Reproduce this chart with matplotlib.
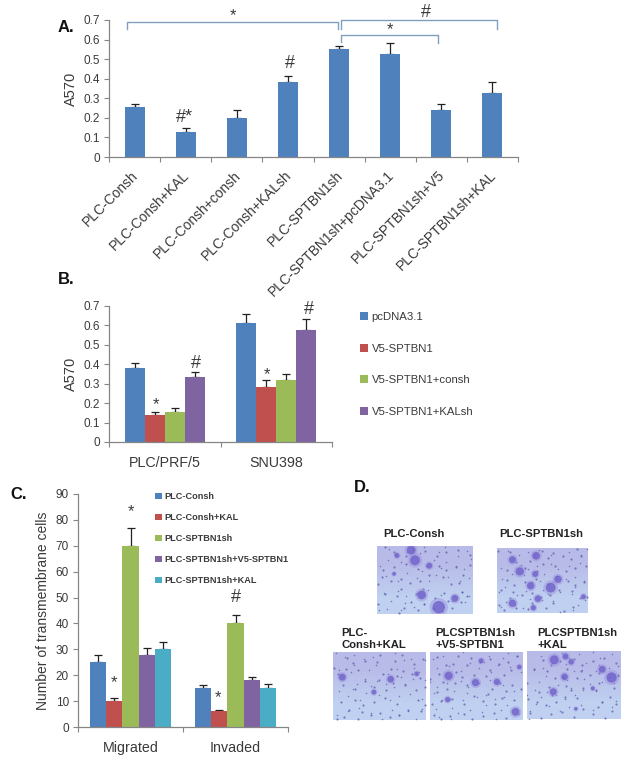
import matplotlib
matplotlib.use('agg')
import matplotlib.pyplot as plt
from matplotlib.patches import Patch
from matplotlib.transforms import ScaledTranslation

plt.rcParams['font.family'] = ['Liberation Sans', 'DejaVu Sans']

W, H = 635, 761

# panel A
a_labels = ['PLC-Consh', 'PLC-Consh+KAL', 'PLC-Consh+consh', 'PLC-Consh+KALsh', 'PLC-SPTBN1sh',
            'PLC-SPTBN1sh+pcDNA3.1', 'PLC-SPTBN1sh+V5', 'PLC-SPTBN1sh+KAL']
a_values = [0.255, 0.13, 0.2, 0.385, 0.55, 0.525, 0.24, 0.325]
a_tops = [0.272, 0.15, 0.24, 0.415, 0.568, 0.58, 0.272, 0.385]

# panel B
b_groups = ['PLC/PRF/5', 'SNU398']
b_series = ['pcDNA3.1', 'V5-SPTBN1', 'V5-SPTBN1+consh', 'V5-SPTBN1+KALsh']
b_values = [[0.38, 0.61], [0.14, 0.285], [0.155, 0.32], [0.335, 0.575]]
b_tops = [[0.405, 0.66], [0.155, 0.32], [0.175, 0.35], [0.36, 0.635]]

# panel C
c_groups = ['Migrated', 'Invaded']
c_series = ['PLC-Consh', 'PLC-Consh+KAL', 'PLC-SPTBN1sh', 'PLC-SPTBN1sh+V5-SPTBN1', 'PLC-SPTBN1sh+KAL']
c_values = [[25, 15], [10, 6], [70, 40], [28, 18], [30, 15]]
c_tops = [[28, 16.2], [11.2, 6.5], [77, 43.3], [30.6, 19.3], [32.7, 16.5]]

d_titles = ['PLC-Consh', 'PLC-SPTBN1sh', 'PLC-\nConsh+KAL', 'PLCSPTBN1sh\n+V5-SPTBN1', 'PLCSPTBN1sh\n+KAL']
d_blobs = [
    [(0.36, 0.06, 40), (0.40, 0.21, 50), (0.55, 0.29, 18), (0.47, 0.72, 40), (0.65, 0.90, 80), (0.82, 0.77, 25),
     (0.21, 0.14, 12), (0.18, 0.41, 7)],
    [(0.43, 0.12, 30), (0.17, 0.18, 25), (0.25, 0.36, 35), (0.42, 0.40, 18), (0.37, 0.58, 28), (0.59, 0.61, 50),
     (0.67, 0.48, 28), (0.45, 0.78, 22), (0.17, 0.85, 28), (0.40, 0.92, 14), (0.95, 0.75, 12)],
    [(0.10, 0.37, 25), (0.62, 0.40, 22), (0.44, 0.59, 12), (0.90, 0.32, 10)],
    [(0.20, 0.35, 35), (0.49, 0.45, 28), (0.72, 0.44, 20), (0.19, 0.70, 14), (0.92, 0.88, 32), (0.96, 0.22, 10),
     (0.55, 0.13, 12)],
    [(0.29, 0.13, 42), (0.41, 0.08, 18), (0.47, 0.16, 15), (0.40, 0.38, 22), (0.28, 0.60, 25), (0.80, 0.27, 25),
     (0.90, 0.39, 55), (0.52, 0.85, 6), (0.70, 0.55, 8)],
]
d_specks = [(0.05, 0.10), (0.12, 0.27), (0.08, 0.52), (0.15, 0.70), (0.05, 0.88), (0.25, 0.83), (0.28, 0.50),
            (0.32, 0.30), (0.30, 0.13), (0.52, 0.08), (0.60, 0.15), (0.70, 0.10), (0.85, 0.07), (0.93, 0.15),
            (0.78, 0.22), (0.65, 0.35), (0.88, 0.35), (0.95, 0.50), (0.76, 0.46), (0.58, 0.48), (0.48, 0.55),
            (0.36, 0.65), (0.23, 0.62), (0.12, 0.42), (0.66, 0.70), (0.75, 0.62), (0.88, 0.64), (0.55, 0.75),
            (0.38, 0.86), (0.18, 0.93), (0.50, 0.93), (0.72, 0.85), (0.85, 0.92), (0.95, 0.80), (0.42, 0.22),
            (0.22, 0.33), (0.56, 0.24), (0.82, 0.53), (0.10, 0.78), (0.62, 0.60), (0.35, 0.42), (0.46, 0.70),
            (0.02, 0.30), (0.73, 0.33), (0.92, 0.25), (0.30, 0.73), (0.60, 0.88), (0.17, 0.05)]

BLUE = '#4f81bd'
RED = '#c0504d'
GREEN = '#9bbb59'
PURPLE = '#8064a2'
CYAN = '#4bacc6'
GRAY = '#868686'
TEXT = '#3a3a3a'


def px_axes(fig, left, top, right, bottom):
    ax = fig.add_axes([left / W, 1 - bottom / H, (right - left) / W, (bottom - top) / H])
    ax.set_facecolor('none')
    return ax


def style_axes(ax, box, ymax, ystep, ylabels, ylabel, n, label_x, label_size):
    for s in ['top', 'right']:
        ax.spines[s].set_visible(False)
    for s in ['left', 'bottom']:
        ax.spines[s].set_color(GRAY)
        ax.spines[s].set_linewidth(0.9)
    ax.set_xlim(-0.5, n - 0.5)
    ax.set_ylim(0, ymax)
    ax.set_yticks([i * ystep for i in range(len(ylabels))])
    ax.set_yticklabels(ylabels, fontsize=8.5, color=TEXT)
    ax.set_xticks([i - 0.5 for i in range(n + 1)])
    ax.set_xticklabels([])
    ax.tick_params(axis='both', which='major', color=GRAY, length=3.5, width=0.8, pad=3)
    ax.set_ylabel(ylabel, fontsize=label_size, color=TEXT)
    ax.yaxis.set_label_coords((label_x - box[0]) / (box[2] - box[0]), 0.5)


def grouped(ax, values, tops, colors, width, cap):
    offset = -(len(values) - 1) / 2
    for i, (vals, top, col) in enumerate(zip(values, tops, colors)):
        xs = [g + (offset + i) * width for g in range(len(vals))]
        errs = [t - v for t, v in zip(top, vals)]
        ax.bar(xs, vals, width, color=col, zorder=2)
        ax.errorbar(xs, vals, yerr=[[0] * len(vals), errs], fmt='none', ecolor='#222222',
                    elinewidth=0.9, capsize=cap, capthick=0.9, zorder=1)


def group_labels(ax, labels, size=10.3):
    ax.set_xticks(range(len(labels)), minor=True)
    ax.set_xticklabels(labels, minor=True, fontsize=size, color=TEXT)
    ax.tick_params(axis='x', which='minor', length=0, pad=10)


def bracket(ax, x0, x1, y, drop0, drop1):
    ax.plot([x0, x0, x1, x1], [y - drop0, y, y, y - drop1], color='#7f9fc0', lw=1, clip_on=False, zorder=3)


def sign(ax, x, y, s, size=12):
    ax.text(x, y, s, ha='center', va='center', fontsize=size, color=TEXT, clip_on=False)


def side_legend(fig, names, colors, x, y, size, spacing, weight='normal'):
    handles = [Patch(facecolor=c, label=n) for n, c in zip(names, colors)]
    fig.legend(handles=handles, loc='upper left', bbox_to_anchor=(x / W, 1 - y / H), frameon=False,
               prop={'size': size, 'weight': weight}, labelspacing=spacing, handlelength=0.72, handleheight=0.72,
               handletextpad=0.3, borderpad=0, borderaxespad=0, labelcolor=TEXT)


fig = plt.figure(figsize=(W / 100, H / 100), dpi=100)

# A
box_a = (109, 20, 518, 157)
ax_a = px_axes(fig, *box_a)
style_axes(ax_a, box_a, 0.7, 0.1, ['0', '0.1', '0.2', '0.3', '0.4', '0.5', '0.6', '0.7'], 'A570', len(a_labels), 78, 10.5)
ax_a.bar(range(len(a_values)), a_values, 0.39, color=BLUE, zorder=2)
ax_a.errorbar(range(len(a_values)), a_values,
              yerr=[[0] * len(a_values), [t - v for t, v in zip(a_tops, a_values)]],
              fmt='none', ecolor='#222222', elinewidth=0.9, capsize=3, capthick=0.9, zorder=1)
ax_a.set_xticks(range(len(a_labels)), minor=True)
ax_a.set_xticklabels(a_labels, minor=True, rotation=45, ha='right', rotation_mode='anchor', fontsize=10, color=TEXT)
ax_a.tick_params(axis='x', which='minor', length=0, pad=8)
for lab in ax_a.get_xticklabels(minor=True):
    lab.set_transform(lab.get_transform() + ScaledTranslation(-0.035, 0, fig.dpi_scale_trans))
bracket(ax_a, -0.15, 3.98, 0.69, 0.035, 0.035)
bracket(ax_a, 4.03, 7.08, 0.70, 0.045, 0.045)
bracket(ax_a, 4.03, 5.93, 0.623, 0.035, 0.04)
sign(ax_a, 1.93, 0.72, '*')
sign(ax_a, 5.7, 0.736, '#', 13)
sign(ax_a, 5.0, 0.65, '*')
sign(ax_a, 0.97, 0.2, '#*', 13)
sign(ax_a, 3.03, 0.48, '#', 13)

# B
box_b = (109, 306, 332, 442)
ax_b = px_axes(fig, *box_b)
style_axes(ax_b, box_b, 0.7, 0.1, ['0', '0.1', '0.2', '0.3', '0.4', '0.5', '0.6', '0.7'], 'A570', len(b_groups), 78, 10.5)
grouped(ax_b, b_values, b_tops, [BLUE, RED, GREEN, PURPLE], 0.18, 3)
group_labels(ax_b, b_groups)
sign(ax_b, -0.08, 0.19, '*')
sign(ax_b, 0.28, 0.405, '#', 13)
sign(ax_b, 0.92, 0.345, '*')
sign(ax_b, 1.29, 0.68, '#', 13)
side_legend(fig, b_series, [BLUE, RED, GREEN, PURPLE], 360, 312, 8.2, 1.9)

# C
box_c = (78, 494, 288, 727)
ax_c = px_axes(fig, *box_c)
style_axes(ax_c, box_c, 90, 10, [str(v) for v in range(0, 100, 10)], 'Number of transmembrane cells', len(c_groups), 50, 10)
grouped(ax_c, c_values, c_tops, [BLUE, RED, GREEN, PURPLE, CYAN], 0.155, 3)
group_labels(ax_c, c_groups)
sign(ax_c, -0.16, 17, '*')
sign(ax_c, 0.0, 83, '*')
sign(ax_c, 0.83, 11.5, '*')
sign(ax_c, 1.0, 50, '#', 13)
side_legend(fig, c_series, [BLUE, RED, GREEN, PURPLE, CYAN], 155, 492, 6.6, 1.31, 'bold')

# D
d_boxes = [(377, 546, 472, 614), (497, 548, 588, 613), (333, 652, 426, 720), (430, 652, 523, 720), (527, 651, 621, 719)]
d_title_pos = [(383, 534), (499, 534), (341, 639), (435, 639), (537, 639)]
for i, (box, blobs, title, pos) in enumerate(zip(d_boxes, d_blobs, d_titles, d_title_pos)):
    ax = px_axes(fig, *box)
    ax.imshow([[0.0], [1.0]], cmap=matplotlib.colors.LinearSegmentedColormap.from_list('p', ['#b8bbe8', '#bfd0f0']),
              extent=(0, 1, 1, 0), aspect='auto', interpolation='bilinear')
    for dx, dy, size in [(0.13, 0.21, 2.5), (0.37, 0.59, 1.2)]:
        sx = [(s[0] + dx * (i + 1)) % 1 for s in d_specks]
        sy = [(s[1] + dy * (i + 1)) % 1 for s in d_specks]
        ax.scatter(sx, sy, s=size, color='#5a55a8', alpha=0.7, linewidths=0)
    ax.scatter([b[0] for b in blobs], [b[1] for b in blobs], s=[b[2] * 2.2 for b in blobs], color='#9a8fdc',
               alpha=0.45, linewidths=0)
    ax.scatter([b[0] for b in blobs], [b[1] for b in blobs], s=[b[2] for b in blobs], color='#6a5cc8',
               alpha=0.75, linewidths=0)
    ax.set_xlim(0, 1)
    ax.set_ylim(1, 0)
    ax.axis('off')
    fig.text(pos[0] / W, 1 - pos[1] / H, title, fontsize=8.1, fontweight='bold', color='#222222',
             ha='left', va='center', linespacing=1.15)

for s, x, y in [('A.', 58, 27), ('B.', 58, 280), ('C.', 10, 494), ('D.', 354, 487)]:
    fig.text(x / W, 1 - y / H, s, fontsize=12, fontweight='bold', color='#111111', ha='left', va='center')

fig.savefig('out.png', dpi=100)
